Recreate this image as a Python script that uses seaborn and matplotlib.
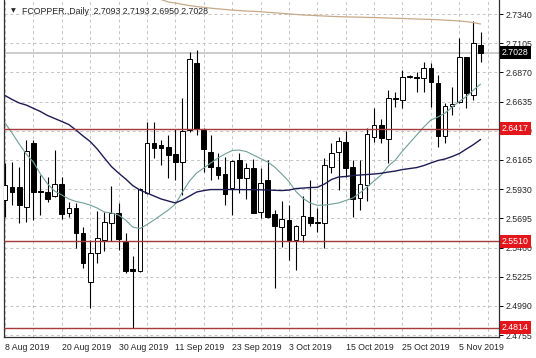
import numpy as np
import pandas as pd
import matplotlib
matplotlib.use("Agg")
import matplotlib.pyplot as plt
import matplotlib.transforms as mtransforms
import seaborn as sns

# daily FCOPPER candles, bar 0 = 8 Aug 2019, bar 67 = last bar
opens = [2.5843, 2.5950, 2.5950, 2.5789, 2.6299, 2.5915, 2.5910, 2.5877, 2.5972, 2.5740,
         2.5776, 2.5575, 2.5185, 2.5418, 2.5521, 2.5660, 2.5736, 2.5502, 2.5289, 2.5270,
         2.5897, 2.6299, 2.6286, 2.6267, 2.6213, 2.6151, 2.6406, 2.6948, 2.6406, 2.6232,
         2.6111, 2.6052, 2.5937, 2.6165, 2.6022, 2.6098, 2.5749, 2.6004, 2.5730, 2.5623,
         2.5682, 2.5521, 2.5561, 2.5708, 2.5668, 2.5660, 2.6111, 2.6232, 2.6312, 2.6106,
         2.5856, 2.5963, 2.6347, 2.6447, 2.6331, 2.6656, 2.6648, 2.6832, 2.6830, 2.6822,
         2.6903, 2.6782, 2.6358, 2.6599, 2.6634, 2.6991, 2.6690, 2.7093]
highs = [2.6140, 2.6151, 2.6111, 2.6326, 2.6326, 2.6044, 2.6031, 2.6245, 2.6025, 2.5829,
         2.5816, 2.5628, 2.5521, 2.5757, 2.5749, 2.5955, 2.5816, 2.5575, 2.5392, 2.5937,
         2.6473, 2.6473, 2.6326, 2.6366, 2.6412, 2.6661, 2.7037, 2.7050, 2.6420, 2.6366,
         2.6219, 2.6186, 2.6165, 2.6224, 2.6143, 2.6170, 2.6100, 2.6165, 2.5762, 2.5835,
         2.5802, 2.5642, 2.5875, 2.6004, 2.5776, 2.6178, 2.6302, 2.6352, 2.6400, 2.6165,
         2.6165, 2.6422, 2.6581, 2.6492, 2.6728, 2.6715, 2.6889, 2.6849, 2.6876, 2.6956,
         2.6943, 2.6849, 2.6621, 2.6750, 2.7144, 2.6996, 2.7286, 2.7193]
lows = [2.5706, 2.5802, 2.5660, 2.5668, 2.5682, 2.5722, 2.5829, 2.5869, 2.5687, 2.5708,
        2.5454, 2.5293, 2.4971, 2.5338, 2.5435, 2.5515, 2.5440, 2.5253, 2.4814, 2.5265,
        2.5890, 2.6178, 2.6125, 2.6017, 2.6004, 2.5883, 2.6390, 2.6366, 2.6071, 2.6004,
        2.6009, 2.5802, 2.5722, 2.5897, 2.5848, 2.5736, 2.5696, 2.5696, 2.5132, 2.5467,
        2.5360, 2.5279, 2.5507, 2.5633, 2.5589, 2.5454, 2.6060, 2.5923, 2.6030, 2.5708,
        2.5762, 2.5835, 2.6312, 2.6299, 2.6138, 2.6594, 2.6581, 2.6822, 2.6715, 2.6715,
        2.6594, 2.6272, 2.6304, 2.6527, 2.6621, 2.6581, 2.6648, 2.6950]
closes = [2.5963, 2.5905, 2.5802, 2.6240, 2.5910, 2.5905, 2.5851, 2.5972, 2.5730, 2.5776,
          2.5575, 2.5333, 2.5414, 2.5534, 2.5668, 2.5740, 2.5526, 2.5273, 2.5270, 2.5929,
          2.6299, 2.6259, 2.6259, 2.6205, 2.6151, 2.6401, 2.6975, 2.6412, 2.6251, 2.6106,
          2.6044, 2.5891, 2.6159, 2.6018, 2.6098, 2.5740, 2.5977, 2.5708, 2.5634, 2.5687,
          2.5521, 2.5634, 2.5714, 2.5655, 2.5660, 2.6124, 2.6219, 2.6320, 2.6098, 2.5848,
          2.5972, 2.6374, 2.6447, 2.6340, 2.6661, 2.6664, 2.6835, 2.6838, 2.6822, 2.6903,
          2.6795, 2.6358, 2.6599, 2.6615, 2.6991, 2.6702, 2.7104, 2.7028]

# moving averages
ma_fast = [2.6463, 2.6382, 2.6294, 2.6213, 2.6149, 2.6052, 2.5972, 2.5915, 2.5883, 2.5851,
           2.5831, 2.5819, 2.5802, 2.5778, 2.5746, 2.5738, 2.5722, 2.5682, 2.5625, 2.5613,
           2.5645, 2.5682, 2.5722, 2.5762, 2.5810, 2.5907, 2.5996, 2.6060, 2.6100, 2.6141,
           2.6181, 2.6213, 2.6241, 2.6245, 2.6233, 2.6205, 2.6177, 2.6149, 2.6108, 2.6052,
           2.5992, 2.5911, 2.5855, 2.5819, 2.5800, 2.5802, 2.5810, 2.5819, 2.5839, 2.5859,
           2.5899, 2.5947, 2.5996, 2.6044, 2.6116, 2.6165, 2.6237, 2.6302, 2.6366, 2.6430,
           2.6487, 2.6511, 2.6543, 2.6591, 2.6636, 2.6676, 2.6728, 2.6776]
ma_mid = [2.6684, 2.6652, 2.6624, 2.6607, 2.6581, 2.6555, 2.6523, 2.6499, 2.6475, 2.6450,
          2.6406, 2.6358, 2.6314, 2.6253, 2.6181, 2.6112, 2.6060, 2.6012, 2.5959, 2.5923,
          2.5899, 2.5875, 2.5851, 2.5835, 2.5819, 2.5843, 2.5875, 2.5907, 2.5919, 2.5927,
          2.5927, 2.5927, 2.5927, 2.5927, 2.5926, 2.5926, 2.5925, 2.5923, 2.5921, 2.5919,
          2.5923, 2.5935, 2.5939, 2.5943, 2.5945, 2.5971, 2.6008, 2.6028, 2.6032, 2.6040,
          2.6044, 2.6048, 2.6052, 2.6058, 2.6068, 2.6076, 2.6088, 2.6096, 2.6104, 2.6120,
          2.6141, 2.6161, 2.6173, 2.6193, 2.6217, 2.6253, 2.6289, 2.6330]
ma_slow_first_bar = 22
ma_slow = [2.7457, 2.7437, 2.7429, 2.7418, 2.7408, 2.7400, 2.7394, 2.7387, 2.7382, 2.7377,
           2.7372, 2.7368, 2.7364, 2.7362, 2.7359, 2.7354, 2.7350, 2.7345, 2.7341, 2.7337,
           2.7332, 2.7330, 2.7327, 2.7324, 2.7321, 2.7319, 2.7317, 2.7316, 2.7315, 2.7313,
           2.7312, 2.7310, 2.7308, 2.7306, 2.7305, 2.7302, 2.7300, 2.7298, 2.7297, 2.7294,
           2.7291, 2.7288, 2.7284, 2.7279, 2.7271, 2.7260]

levels = [2.6417, 2.5510, 2.4814]
last_price = 2.7028
title_text = 'FCOPPER.,Daily  2.7093 2.7193 2.6950 2.7028'

y_ticks = [2.7340, 2.7105, 2.6870, 2.6635, 2.6400, 2.6165, 2.5930, 2.5695, 2.5460,
           2.5225, 2.4990, 2.4755]
x_label_bars = [0, 8, 16, 24, 32, 40, 48, 56, 64]
x_labels = ['8 Aug 2019', '20 Aug 2019', '30 Aug 2019', '11 Sep 2019', '23 Sep 2019',
            '3 Oct 2019', '15 Oct 2019', '25 Oct 2019', '5 Nov 2019']

sns.set_style('white')
plt.rcParams['font.family'] = ['Liberation Sans', 'DejaVu Sans']
FS = 6.3

df = pd.DataFrame({'bar': np.arange(len(opens)), 'open': opens, 'high': highs,
                   'low': lows, 'close': closes, 'ma_fast': ma_fast, 'ma_mid': ma_mid})
df['bottom'] = df[['open', 'close']].min(axis=1)
df['height'] = (df['close'] - df['open']).abs()
up = df['close'] >= df['open']
slow_df = pd.DataFrame({'bar': np.arange(ma_slow_first_bar, ma_slow_first_bar + len(ma_slow)),
                        'ma_slow': ma_slow})

fig = plt.figure(figsize=(5.36, 3.58), dpi=100)
ax = fig.add_axes([4 / 536, 21 / 358, 495 / 536, 337 / 358])

# grid, every 4 bars / every price step
for b in range(0, 72, 4):
    ax.axvline(b, color='#c4c4c4', lw=0.7, ls=(0, (3, 3)), zorder=0)
for t in y_ticks:
    ax.axhline(t, color='#c4c4c4', lw=0.7, ls=(0, (3, 3)), zorder=0)

# candles
ax.vlines(df['bar'], df['low'], df['high'], color='black', lw=0.8, zorder=3)
ax.bar(df['bar'], df['height'], bottom=df['bottom'], width=0.66,
       color=np.where(up, 'white', 'black'), edgecolor='black', linewidth=0.7, zorder=4)

# moving averages
sns.lineplot(data=slow_df, x='bar', y='ma_slow', color='#c6a988', lw=0.9, ax=ax, zorder=5)
sns.lineplot(data=df, x='bar', y='ma_fast', color='#6f9f96', lw=0.8, ax=ax, zorder=5)
sns.lineplot(data=df, x='bar', y='ma_mid', color='#1c1c55', lw=1.0, ax=ax, zorder=5)

# levels and current price
ax.axhline(last_price, color='#c4c4c4', lw=1.2, zorder=2)
for lv in levels:
    ax.axhline(lv, color='#a8393b', lw=1.0, zorder=6)

ax.set_xlim(-0.14, 69.6)
ax.set_ylim(2.4740, 2.7453)
ax.set_xlabel('')
ax.set_ylabel('')

ax.yaxis.tick_right()
ax.set_yticks(y_ticks)
ax.set_yticklabels([f'{t:.4f}' for t in y_ticks], fontsize=FS)
ax.set_xticks(x_label_bars)
ax.set_xticklabels(x_labels, fontsize=FS, ha='left')
ax.tick_params(axis='both', direction='out', length=3, width=0.7, color='black', pad=2)
ax.tick_params(axis='x', pad=1.5)

for side in ['left', 'right', 'bottom']:
    ax.spines[side].set_color('#303030')
    ax.spines[side].set_linewidth(0.9)
ax.spines['top'].set_visible(False)

# price tags on the right scale (they sit over the scale labels, as in the terminal)
trans = mtransforms.blended_transform_factory(ax.transAxes, ax.transData)
for lv in levels:
    ax.text(1.006, lv, f'{lv:.4f}', transform=trans, fontsize=FS, color='white',
            va='center', ha='left', zorder=10, clip_on=False,
            bbox=dict(boxstyle='square,pad=0.25', fc='#e3171b', ec='none'))
ax.text(1.006, last_price, f'{last_price:.4f}', transform=trans, fontsize=FS, color='white',
        va='center', ha='left', zorder=10, clip_on=False,
        bbox=dict(boxstyle='square,pad=0.25', fc='black', ec='none'))

# chart title inside the plot
ax.text(7 / 495, 1 - 11 / 337, '\u25bc', transform=ax.transAxes, fontsize=4.5,
        va='center', ha='left', family='DejaVu Sans')
ax.text(18 / 495, 1 - 11 / 337, title_text, transform=ax.transAxes, fontsize=FS,
        va='center', ha='left')

fig.savefig('out.png', dpi=100)
plt.close()
